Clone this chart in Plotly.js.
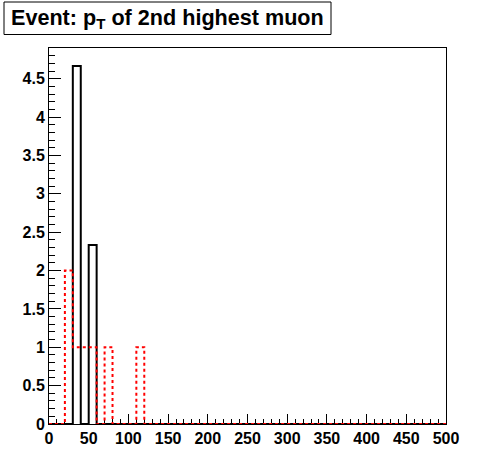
<!DOCTYPE html>
<html>
<head>
<meta charset="utf-8">
<script src="https://cdn.plot.ly/plotly-3.0.1.min.js"></script>
<style>html,body{margin:0;padding:0;background:#fff;}#chart{width:496px;height:472px;}</style>
</head>
<body>
<div id="chart"></div>
<script>
// bin layout: 50 bins of width 10 from 0 to 500
const binLowEdges = [0,10,20,30,40,50,60,70,80,90,100,110,120,130,140,150,160,170,180,190,200,210,220,230,240,250,260,270,280,290,300,310,320,330,340,350,360,370,380,390,400,410,420,430,440,450,460,470,480,490];
const binUpperEdge = 500;
// black (solid) histogram contents
const blackValues = [0,0,0,4.667,0,2.333,0,0,0,0,0,0,0,0,0,0,0,0,0,0,0,0,0,0,0,0,0,0,0,0,0,0,0,0,0,0,0,0,0,0,0,0,0,0,0,0,0,0,0,0];
// red (dotted) histogram contents
const redValues = [0,0,2,1,1,1,0,1,0,0,0,1,0,0,0,0,0,0,0,0,0,0,0,0,0,0,0,0,0,0,0,0,0,0,0,0,0,0,0,0,0,0,0,0,0,0,0,0,0,0];
const xTickVals = [0,50,100,150,200,250,300,350,400,450,500];
const yTickVals = [0,0.5,1,1.5,2,2.5,3,3.5,4,4.5];
const titleText = 'Event: p<sub>T</sub> of 2nd highest muon';

function stepXY(edges, upper, vals){
  const x = edges.concat([upper]);
  const y = vals.concat([vals[vals.length-1]]);
  return {x, y};
}
const b = stepXY(binLowEdges, binUpperEdge, blackValues);
const r = stepXY(binLowEdges, binUpperEdge, redValues);

const traces = [
  {x: b.x, y: b.y, type: 'scatter', mode: 'lines', cliponaxis: false, line: {shape: 'hv', color: '#000000', width: 2}, hoverinfo: 'skip', showlegend: false},
  {x: r.x, y: r.y, type: 'scatter', mode: 'lines', cliponaxis: false, line: {shape: 'hv', color: '#ff0000', width: 2, dash: 'dot'}, hoverinfo: 'skip', showlegend: false}
];

const tickFont = {family: 'Liberation Sans, Arial, sans-serif', size: 16, color: '#000', weight: 'bold'};

const layout = {
  width: 496, height: 472,
  margin: {l: 49, r: 50, t: 48, b: 48, pad: 0},
  paper_bgcolor: '#ffffff', plot_bgcolor: '#ffffff',
  showlegend: false,
  title: {
    text: titleText,
    xref: 'container', yref: 'container',
    x: 11/496, xanchor: 'left',
    y: 1 - 17/472, yanchor: 'middle',
    font: {family: 'Liberation Sans, Arial, sans-serif', size: 21.6, color: '#000', weight: 'bold'}
  },
  xaxis: {
    range: [0, 500], tickvals: xTickVals, ticktext: xTickVals.map(String),
    ticks: 'inside', ticklen: 10, tickwidth: 1, tickcolor: '#000',
    minor: {ticks: 'inside', ticklen: 5, dtick: 10, tickcolor: '#000', tickwidth: 1, showgrid: false},
    showline: true, linecolor: '#000', linewidth: 1, mirror: true, layer: 'below traces',
    showgrid: false, zeroline: false, tickfont: tickFont, fixedrange: true
  },
  yaxis: {
    range: [0, 4.9], tickvals: yTickVals, ticktext: yTickVals.map(String),
    ticks: 'inside', ticklen: 12, tickwidth: 1, tickcolor: '#000',
    minor: {ticks: 'inside', ticklen: 6, dtick: 0.1, tickcolor: '#000', tickwidth: 1, showgrid: false},
    showline: true, linecolor: '#000', linewidth: 1, mirror: true, layer: 'below traces',
    showgrid: false, zeroline: false, tickfont: tickFont, fixedrange: true
  },
  shapes: [
    {type: 'rect', xref: 'paper', yref: 'paper',
     x0: (4-49)/397, x1: (331-49)/397, y0: (424-34.5)/376, y1: (424-2)/376,
     line: {color: '#000', width: 1}, fillcolor: 'rgba(0,0,0,0)', layer: 'below'}
  ]
};

Plotly.newPlot('chart', traces, layout, {staticPlot: true, displayModeBar: false});
</script>
</body>
</html>
